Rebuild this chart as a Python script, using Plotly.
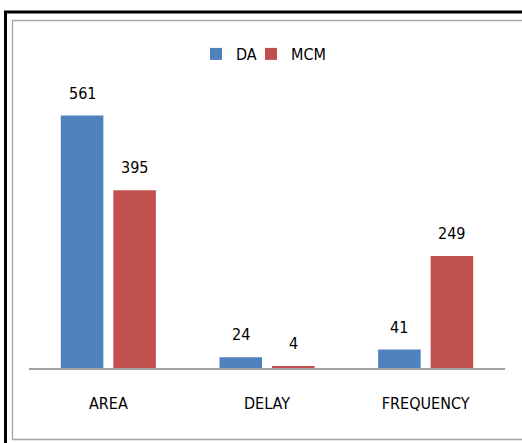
import plotly.graph_objects as go

categories = ["AREA", "DELAY", "FREQUENCY"]
da_values = [561, 24, 41]
mcm_values = [395, 4, 249]
series_names = ["DA", "MCM"]
series_colors = ["#4F81BD", "#C0504D"]

FONT = "Liberation Sans Narrow, DejaVu Sans Condensed, Arial Narrow, sans-serif"
TEXT_COLOR = "#000000"

W, H = 522, 443
ML, MR, MT, MB = 29, 17, 98, 75
PW, PH = W - ML - MR, H - MT - MB
BARGAP = 0.338
BARGROUPGAP = 0.19


def px2x(px):
    return (px - ML) / PW


def px2y(py):
    return (H - MB - py) / PH


legend_ids = ["legend", "legend2"]
legend_left_px = [196, 251]

fig = go.Figure()
for name, vals, col, lid in zip(series_names, [da_values, mcm_values], series_colors, legend_ids):
    fig.add_trace(go.Bar(x=categories, y=vals, name=name, marker_color=col,
                         marker_line_width=0, legend=lid))

# value labels above bars
slot = PW / len(categories) * (1 - BARGAP) / 2
for i, vals in enumerate([da_values, mcm_values]):
    shift = (i - 0.5) * slot
    for c, v in zip(categories, vals):
        fig.add_annotation(x=c, y=v, text=str(v), showarrow=False,
                           xref="x", yref="y", xanchor="center", yanchor="bottom",
                           xshift=shift, yshift=11,
                           font=dict(family=FONT, size=16, color=TEXT_COLOR))

# outer black frame and inner gray frame
fig.add_shape(type="rect", xref="paper", yref="paper",
              x0=px2x(5.5), x1=px2x(560), y0=px2y(12), y1=px2y(480),
              line=dict(color="#000000", width=3), fillcolor="rgba(0,0,0,0)", layer="below")
fig.add_shape(type="rect", xref="paper", yref="paper",
              x0=px2x(12.5), x1=px2x(560), y0=px2y(20.5), y1=px2y(439.5),
              line=dict(color="#A6A6A6", width=1.3), fillcolor="rgba(0,0,0,0)", layer="below")

legend_style = dict(orientation="h", xanchor="left",
                    yref="container", y=1 - 54 / H, yanchor="middle",
                    font=dict(family=FONT, size=16, color=TEXT_COLOR),
                    itemwidth=30, bgcolor="rgba(0,0,0,0)")

fig.update_layout(
    width=W, height=H,
    margin=dict(l=ML, r=MR, t=MT, b=MB),
    paper_bgcolor="white", plot_bgcolor="white",
    barmode="group", bargap=BARGAP, bargroupgap=BARGROUPGAP,
    font=dict(family=FONT, size=16, color=TEXT_COLOR),
    showlegend=True,
    legend=dict(x=px2x(legend_left_px[0]), **legend_style),
    legend2=dict(x=px2x(legend_left_px[1]), **legend_style),
    xaxis=dict(showline=True, linecolor="#A0A0A0", linewidth=1.5,
               ticks="", showgrid=False, ticklabelstandoff=20,
               tickfont=dict(family=FONT, size=16, color=TEXT_COLOR)),
    yaxis=dict(range=[0, 600], visible=False, showgrid=False, zeroline=False),
)

fig.write_html("out.html")
